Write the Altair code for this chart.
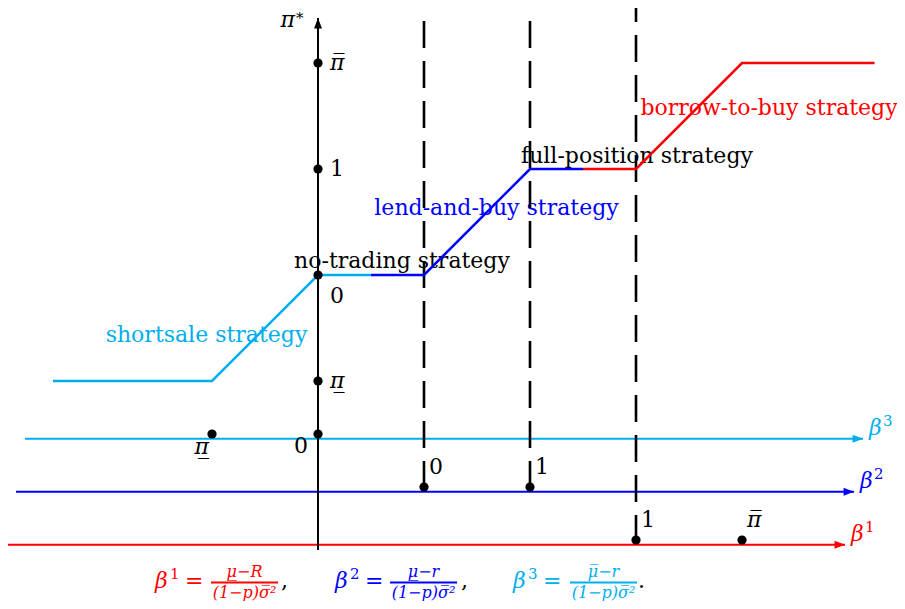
import altair as alt
import pandas as pd

# ---------------- data (horizontal: beta units, vertical: pi* units) ----------------
CYAN, BLUE, RED, BLACK = "#00aeef", "#0000ff", "#ff0000", "#000000"

# optimal strategy pi* as a function of beta
shortsale_x = [-2.5, -1.0, 0.0, 0.5]
shortsale_y = [-1.0, -1.0, 0.0, 0.0]
lendbuy_x = [0.5, 1.0, 2.0, 2.5]
lendbuy_y = [0.0, 0.0, 1.0, 1.0]
borrow_x = [2.5, 3.0, 4.0, 5.25]
borrow_y = [1.0, 1.0, 2.0, 2.0]

# the three beta axes
beta_sup = ["3", "2", "1"]
beta_colors = [CYAN, BLUE, RED]
beta_level = [-1.545, -2.045, -2.545]
beta_start = [-2.764, -2.849, -2.934]
beta_end = [5.142, 5.057, 4.972]

# vertical pi* axis
piaxis_x = [0.0]
piaxis_bottom = [-2.594]
piaxis_top = [2.4245]

# dashed thresholds
dash_x = [1.0, 2.0]
dash_top = [2.396, 2.396]
dash_bottom = [-2.0, -2.0]
dash3_x = [3.0]
dash3_top = [2.519]
dash3_bottom = [-2.5]

# marked points
dot_x = [0, 0, 0, 0, 0, -1.0, 1, 2, 3, 4]
dot_y = [2, 1, 0, -1, -1.5, -1.5, -2, -2, -2.5, -2.5]

# point labels
lab_text = ["π\u0305", "1", "0", "π\u0332", "0", "π\u0332", "0", "1", "1", "π\u0305"]
lab_x = [0, 0, 0, 0, 0, -1.0, 1, 2, 3, 4]
lab_y = [2, 1, 0, -1, -1.5, -1.5, -2, -2, -2.5, -2.5]
lab_anchor = ["right", "right", "below right", "right", "below left", "below left near",
              "above right", "above right", "above right", "above right"]

# strategy names
strat_text = ["shortsale strategy", "no-trading strategy", "lend-and-buy strategy",
              "full-position strategy", "borrow-to-buy strategy"]
strat_x = [-1.052, 0.792, 1.684, 3.009, 4.255]
strat_y = [-0.632, 0.066, 0.566, 1.057, 1.509]
strat_color = [CYAN, BLACK, BLUE, BLACK, RED]

# formulas
f_sup = ["1", "2", "3"]
f_num = ["μ\u0332−R", "μ\u0332−r", "μ\u0305−r"]
f_den = ["(1−p)σ\u0305²", "(1−p)σ\u0305²", "(1−p)σ\u0305²"]
f_end = [",", ",", "."]
f_color = [RED, BLUE, CYAN]
f_lhs_x = [-1.5377, 0.1604, 1.8396]
f_bar_x1 = [-1.0094, 0.6792, 2.3774]
f_bar_x2 = [-0.3774, 1.3113, 3.0094]
f_end_x = [-0.3491, 1.3491, 3.0189]
f_lhs_y = -2.955
f_bar_y = -2.900
f_num_y = -2.845
f_den_y = -3.048

# ---------------- chart ----------------
FONT = "DejaVu Serif"
XS = alt.Scale(domain=[-2.9245, 5.4623], nice=False, zero=False)
YS = alt.Scale(domain=[-3.0755, 2.5189], nice=False, zero=False)


def X(f="x"):
    return alt.X(f"{f}:Q", scale=XS, axis=None)


def Y(f="y"):
    return alt.Y(f"{f}:Q", scale=YS, axis=None)


def C():
    return alt.Color("c:N", scale=None)


def txt(**kw):
    base = dict(font=FONT, fontSize=22)
    base.update(kw)
    return base


layers = []

# strategy labels (under the lines)
df_s = pd.DataFrame({"x": strat_x, "y": strat_y, "t": strat_text, "c": strat_color})
layers.append(alt.Chart(df_s).mark_text(**txt(align="center", baseline="alphabetic"))
              .encode(x=X(), y=Y(), text="t:N", color=C()))

# beta axes
df_b = pd.DataFrame({"x": beta_start, "x2": beta_end, "y": beta_level, "c": beta_colors, "s": beta_sup})
layers.append(alt.Chart(df_b).mark_rule(strokeWidth=2.2).encode(x=X(), x2="x2:Q", y=Y(), color=C()))
layers.append(alt.Chart(df_b).mark_point(shape="M-2,-0.75L0,0L-2,0.75Z", filled=True, size=110, opacity=1)
              .encode(x=X("x2"), y=Y(), color=C()))
layers.append(alt.Chart(df_b).mark_text(**txt(fontStyle="italic", align="left", baseline="alphabetic",
                                              dx=6, dy=-4, text="β"))
              .encode(x=X("x2"), y=Y(), color=C()))
layers.append(alt.Chart(df_b).mark_text(**txt(fontSize=15, align="left", baseline="alphabetic",
                                              dx=20, dy=-13))
              .encode(x=X("x2"), y=Y(), text="s:N", color=C()))

# pi* axis
df_p = pd.DataFrame({"x": piaxis_x, "y": piaxis_bottom, "y2": piaxis_top})
layers.append(alt.Chart(df_p).mark_rule(strokeWidth=2, color=BLACK).encode(x=X(), y=Y(), y2="y2:Q"))
layers.append(alt.Chart(df_p).mark_point(shape="M-0.75,2L0,0L0.75,2Z", filled=True, size=110, opacity=1,
                                         color=BLACK).encode(x=X(), y=Y("y2")))
layers.append(alt.Chart(df_p).mark_text(**txt(fontStyle="italic", align="right", baseline="middle",
                                              dx=-23, dy=2, color=BLACK, text="π"))
              .encode(x=X(), y=Y("y2")))
layers.append(alt.Chart(df_p).mark_text(**txt(fontSize=15, align="left", baseline="top",
                                              dx=-22, dy=-7, color=BLACK, text="*"))
              .encode(x=X(), y=Y("y2")))

# dashed thresholds
df_d = pd.DataFrame({"x": dash_x, "y": dash_top, "y2": dash_bottom})
layers.append(alt.Chart(df_d).mark_rule(strokeWidth=2.6, color=BLACK, strokeDash=[27, 13])
              .encode(x=X(), y=Y(), y2="y2:Q"))
df_d3 = pd.DataFrame({"x": dash3_x, "y": dash3_top, "y2": dash3_bottom})
layers.append(alt.Chart(df_d3).mark_rule(strokeWidth=2.6, color=BLACK, strokeDash=[27, 13], strokeDashOffset=13)
              .encode(x=X(), y=Y(), y2="y2:Q"))

# strategy path
for xs, ys, col in [(shortsale_x, shortsale_y, CYAN), (lendbuy_x, lendbuy_y, BLUE), (borrow_x, borrow_y, RED)]:
    df_l = pd.DataFrame({"x": xs, "y": ys, "o": list(range(len(xs)))})
    layers.append(alt.Chart(df_l).mark_line(color=col, strokeWidth=2.6, strokeCap="butt", strokeJoin="miter")
                  .encode(x=X(), y=Y(), order="o:O"))

# dots
df_dot = pd.DataFrame({"x": dot_x, "y": dot_y})
layers.append(alt.Chart(df_dot).mark_circle(size=85, color=BLACK, opacity=1).encode(x=X(), y=Y()))

# point labels
ANCHORS = {
    "right": (12, 0, "left"),
    "below right": (12, 21, "left"),
    "below left": (-10, 12, "right"),
    "below left near": (-3, 13, "right"),
    "above right": (5, -20, "left"),
}
for t, x, y, a in zip(lab_text, lab_x, lab_y, lab_anchor):
    dx, dy, al = ANCHORS[a]
    style = "italic" if t.startswith("π") else "normal"
    df_t = pd.DataFrame({"x": [x], "y": [y], "t": [t]})
    layers.append(alt.Chart(df_t).mark_text(**txt(fontStyle=style, align=al, baseline="middle",
                                                  dx=dx, dy=dy, color=BLACK))
                  .encode(x=X(), y=Y(), text="t:N"))

# formulas
df_f = pd.DataFrame({
    "lx": f_lhs_x, "x1": f_bar_x1, "x2": f_bar_x2, "ex": f_end_x,
    "sup": f_sup, "num": f_num, "den": f_den, "end": f_end, "c": f_color,
})
df_f["mx"] = (df_f["x1"] + df_f["x2"]) / 2
df_f["ly"] = f_lhs_y
df_f["by"] = f_bar_y
df_f["ny"] = f_num_y
df_f["dy"] = f_den_y
layers.append(alt.Chart(df_f).mark_text(**txt(fontStyle="italic", align="left", baseline="alphabetic", text="β"))
              .encode(x=X("lx"), y=Y("ly"), color=C()))
layers.append(alt.Chart(df_f).mark_text(**txt(fontSize=15, align="left", baseline="alphabetic", dx=15, dy=-9))
              .encode(x=X("lx"), y=Y("ly"), text="sup:N", color=C()))
layers.append(alt.Chart(df_f).mark_text(**txt(align="left", baseline="alphabetic", dx=30, text="="))
              .encode(x=X("lx"), y=Y("ly"), color=C()))
layers.append(alt.Chart(df_f).mark_rule(strokeWidth=2).encode(x=X("x1"), x2="x2:Q", y=Y("by"), color=C()))
layers.append(alt.Chart(df_f).mark_text(**txt(fontSize=16, fontStyle="italic", align="center",
                                              baseline="alphabetic"))
              .encode(x=X("mx"), y=Y("ny"), text="num:N", color=C()))
layers.append(alt.Chart(df_f).mark_text(**txt(fontSize=16, fontStyle="italic", align="center",
                                              baseline="alphabetic"))
              .encode(x=X("mx"), y=Y("dy"), text="den:N", color=C()))
layers.append(alt.Chart(df_f).mark_text(**txt(align="left", baseline="alphabetic"))
              .encode(x=X("ex"), y=Y("ly"), text="end:N", color=alt.value(BLACK)))

chart = alt.layer(*layers).properties(
    width=889, height=593, padding=0, autosize="none", background="white"
).configure_view(stroke=None)

chart.save("out.html", embed_options={"renderer": "svg", "actions": False})
